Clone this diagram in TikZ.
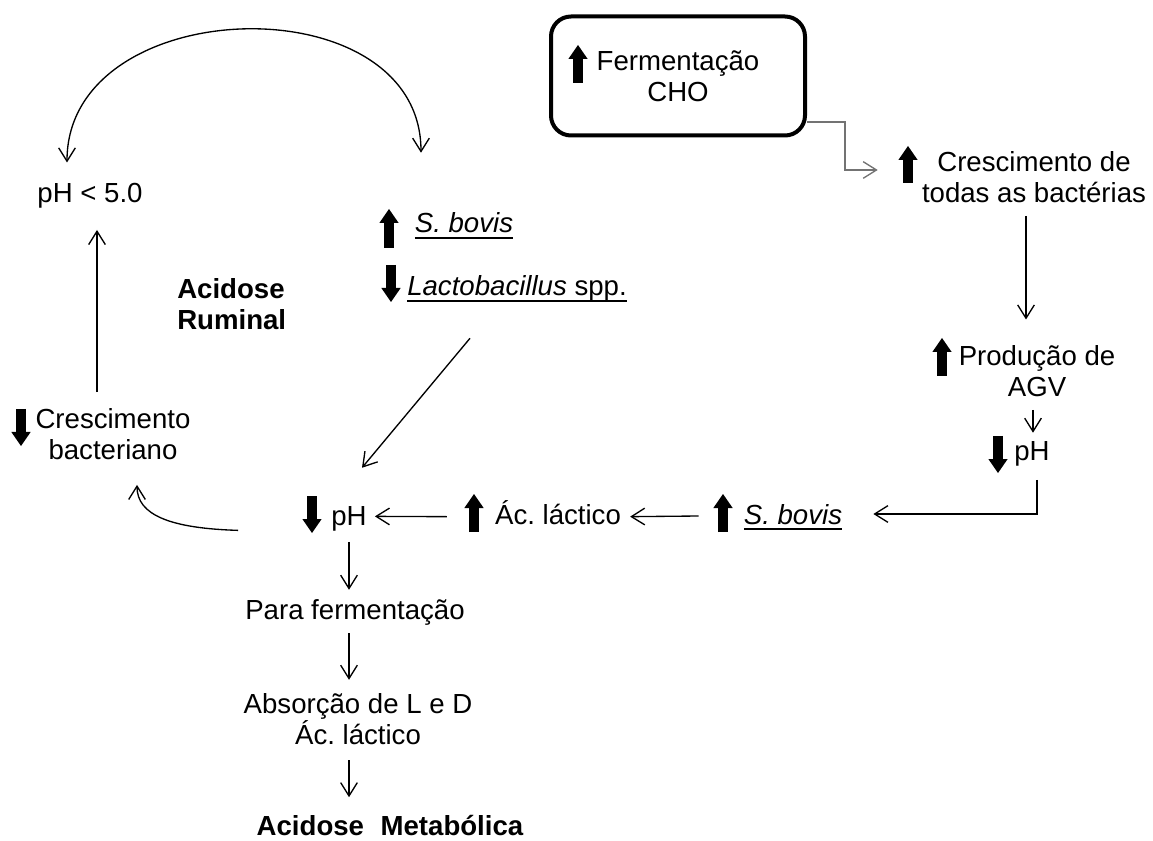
\documentclass[tikz,border=0pt]{standalone}
\usepackage{fontspec}
\setmainfont{Liberation Sans}
\usetikzlibrary{arrows.meta}
\frenchspacing

\newcommand{\sublinhado}[1]{\setbox0\hbox{#1}\rlap{\rule[-4.5pt]{\wd0}{1.2pt}}\box0}

\begin{document}
\begin{tikzpicture}[x=0.75pt, y=-0.75pt,
  >={Straight Barb[length=10pt,width=12.5pt]},
  txt/.style={font=\fontsize{20.7pt}{23.25pt}\selectfont, inner sep=0pt, align=center},
  negrito/.style={txt, font=\fontsize{20.7pt}{23.25pt}\selectfont\bfseries},
  caixa/.style={draw, line width=3pt, rounded corners=15pt, minimum width=190.5pt, minimum height=89.25pt},
  seta/.style={line width=1pt, ->},
  cinza/.style={seta, draw=black!55},
  setagrossa/.style={line width=7.5pt, -{Triangle[length=10.5pt,width=14.5pt,line width=0pt]}}]
  \useasboundingbox (0,0) rectangle (1153,841);
  % Caixa inicial
  \node[txt, caixa] (ferm) at (678,76) {Fermentação\\CHO};
  % Coluna da direita
  \node[txt] (cres) at (1034,177) {Crescimento de\\todas as bactérias};
  \node[txt] (prod) at (1037,371) {Produção de\\AGV};
  \node[txt, anchor=base] (phR) at (1032,460) {pH};
  % Linha de baixo
  \node[txt, anchor=base] (sbB) at (793,524) {\sublinhado{\itshape S. bovis}};
  \node[txt, anchor=base] (lact) at (558,524) {Ác. láctico};
  \node[txt, anchor=base] (phB) at (349,525) {pH};
  % Lado esquerdo
  \node[txt, anchor=base] (ph5) at (90,203) {pH < 5.0};
  \node[txt] (cb) at (113,434) {Crescimento\\bacteriano};
  \node[negrito, align=left, anchor=west] (acrum) at (177,304) {Acidose\\Ruminal};
  \node[txt, anchor=base] (sbT) at (464,233) {\sublinhado{\itshape S. bovis}};
  \node[txt, anchor=base] (lactob) at (517,296) {\sublinhado{\itshape Lactobacillus\upshape\ spp.}};
  % Coluna central
  \node[txt, anchor=base] (para) at (355,619) {Para fermentação};
  \node[txt] (absorc) at (358,719) {Absorção de L e D\\Ác. láctico};
  \node[negrito, anchor=base] (metab) at (390,835) {Acidose\hspace{0.6em}Metabólica};
  % Setas grossas (sobe / desce)
  \foreach \x/\ya/\yb in {578/83/45, 908/183/146, 942/376/338, 998/436/473, 723/532/494,
                          474/532/494, 312/496/533, 21/409/446, 389/248/209, 391/265/302}
    \draw[setagrossa] (\x,\ya) -- (\x,\yb);
  % Ligacoes
  \draw[cinza] ([shift={(0,-15.5)}]ferm.south east) -- ++(38,0) |- ([shift={(-44,-7)}]cres.west);
  \draw[seta] ([shift={(-8,13)}]cres.south) -- ([shift={(-11,-25.6)}]prod.north);
  \draw[seta] ([shift={(-4,13)}]prod.south) -- ([shift={(1,-8)}]phR.north);
  \draw[seta] ([shift={(5,14)}]phR.south) |- ([shift={(31,-3)}]sbB.east);
  \draw[seta] ([shift={(-45,-1)}]sbB.west) -- ([shift={(9,4.5)}]lact.east);
  \draw[seta] ([shift={(-48,4.5)}]lact.west) -- ([shift={(8,-2)}]phB.east);
  \draw[seta] ([shift={(-47,36)}]lactob.south) -- ([shift={(13,-38)}]phB.north);
  \draw[seta] ([shift={(-93,12)}]phB.west) .. controls +(-68,-2) and +(0,30) .. ([shift={(24,25)}]cb.south);
  \draw[seta] ([shift={(-16,-16)}]cb.north) -- ([shift={(7,21)}]ph5.south);
  \draw[seta, <->] ([shift={(-23,-21)}]ph5.north) .. controls +(0,-171) and +(0,-171) .. ([shift={(-43,-60)}]sbT.north);
  \draw[seta] ([shift={(0,11)}]phB.south) -- ([shift={(-6,-9)}]para.north);
  \draw[seta] ([shift={(-6,8)}]para.south) -- ([shift={(-9,-13.3)}]absorc.north);
  \draw[seta] ([shift={(-9,15.3)}]absorc.south) -- ([shift={(-41,-17.3)}]metab.north);
\end{tikzpicture}
\end{document}
